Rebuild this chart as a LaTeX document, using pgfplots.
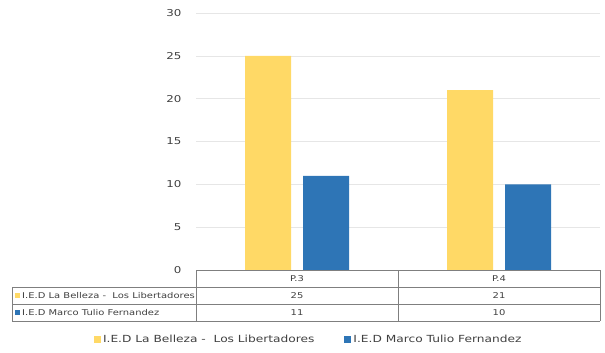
\documentclass[border=0pt]{standalone}
\usepackage{pgfplots}
\pgfplotsset{compat=1.18}
\usepackage{fontspec}
\setmainfont{DejaVu Sans}[FakeStretch=1.25]
\definecolor{yel}{HTML}{FFD966}
\definecolor{blu}{HTML}{2E75B6}
\definecolor{gridc}{HTML}{E6E6E6}
\definecolor{txt}{HTML}{404040}
\definecolor{tline}{HTML}{7F7F7F}
\begin{document}
\begin{tikzpicture}[x=1bp,y=1bp]
\path[use as bounding box] (0,0) rectangle (605,352);
\begin{axis}[
  at={(196bp,82bp)}, anchor=south west,
  scale only axis, width=404bp, height=257bp,
  xmin=-0.5, xmax=1.5, ymin=0, ymax=30,
  ytick={0,5,...,30},
  xtick=\empty,
  axis line style={draw=none},
  ymajorgrids, grid style={gridc, line width=0.6pt},
  major tick length=0pt,
  tick label style={font=\fontsize{9.5}{11}\selectfont, text=txt},
  yticklabel style={xshift=-11bp},
  /pgf/number format/assume math mode=true,
  clip=false,
  legend columns=2,
  legend style={draw=none, at={(0.279,-0.272)}, anchor=center,
    font=\fontsize{9.8}{12}\selectfont, text=txt,
    /tikz/every even column/.append style={column sep=28bp}},
  legend image code/.code={\fill[#1] (0bp,-3.5bp) rectangle (7bp,3.5bp);},
]
\addplot[ybar, bar width=46bp, bar shift=-29bp, fill=yel, draw=none] coordinates {(0,25) (1,21)};
\addlegendentry{I.E.D La Belleza -\ \ Los Libertadores}
\addplot[ybar, bar width=46bp, bar shift=29bp, fill=blu, draw=none] coordinates {(0,11) (1,10)};
\addlegendentry{I.E.D Marco Tulio Fernandez}
\end{axis}
% data table
\begin{scope}[draw=tline, line width=0.8pt]
\draw (196,82) -- (600,82);
\draw (12,65) -- (600,65);
\draw (12,48) -- (600,48);
\draw (12,31) -- (600,31);
\draw (12,65) -- (12,31);
\draw (196,82) -- (196,31);
\draw (398,82) -- (398,31);
\draw (600,82) -- (600,31);
\end{scope}
\begin{scope}[every node/.style={font=\fontsize{8}{9}\selectfont, text=txt, inner sep=0pt}]
\node at (297,73.5) {P.3};
\node at (499,73.5) {P.4};
\node at (297,56.5) {25};
\node at (499,56.5) {21};
\node at (297,39.5) {11};
\node at (499,39.5) {10};
\fill[yel] (15,54) rectangle (20,59);
\fill[blu] (15,37) rectangle (20,42);
\node[anchor=west] at (22,56.5) {I.E.D La Belleza -\ \ Los Libertadores};
\node[anchor=west] at (22,39.5) {I.E.D Marco Tulio Fernandez};
\end{scope}
\end{tikzpicture}
\end{document}
